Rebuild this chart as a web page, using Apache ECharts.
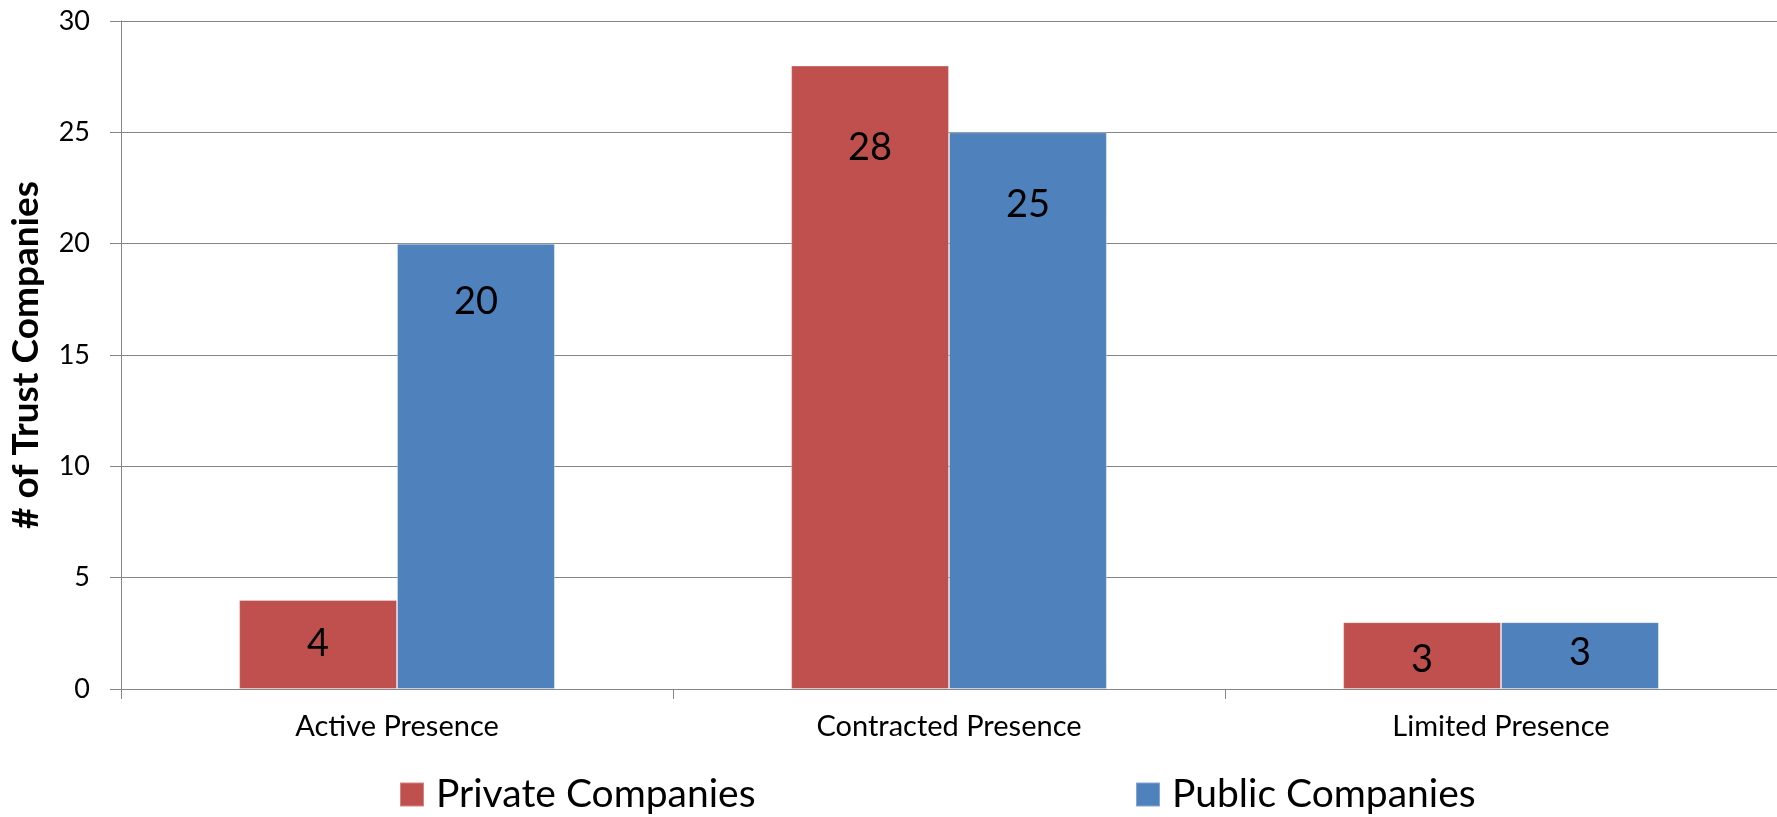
<!DOCTYPE html>
<html>
<head>
<meta charset="utf-8">
<script src="https://cdn.jsdelivr.net/npm/echarts@6/dist/echarts.min.js"></script>
<style>
  html, body { margin: 0; padding: 0; background: #fff; }
  #chart { width: 1777px; height: 817px; }
</style>
</head>
<body>
<div id="chart"></div>
<script>
const categories = ['Active Presence', 'Contracted Presence', 'Limited Presence'];
const privateCompanies = [4, 28, 3];
const publicCompanies = [20, 25, 3];
const yTicks = { min: 0, max: 30, interval: 5 };

// how far below each bar top the value label sits (px), as in the original
const privateLabelDrop = [44, 82, 38];
const publicLabelDrop = [58, 72, 31];

const FONT = 'Lato, "Open Sans", sans-serif';
const GRID_COLOR = '#868686';

function withLabels(values, drops) {
  return values.map((v, i) => ({
    value: v,
    label: { position: ['50%', drops[i]] }
  }));
}

const chart = echarts.init(document.getElementById('chart'), null, { renderer: 'canvas' });

const legendText = { fontFamily: FONT, fontSize: 39, color: '#000', padding: [0, 0, 0, 7] };

const option = {
  backgroundColor: '#fff',
  animation: false,
  grid: { left: 119, right: 0, top: 21, bottom: 128, containLabel: false },
  legend: [
    {
      data: ['Private Companies'],
      left: 399,
      top: 775,
      padding: 0,
      icon: 'rect',
      itemWidth: 24,
      itemHeight: 24,
      textStyle: legendText
    },
    {
      data: ['Public Companies'],
      left: 1135,
      top: 775,
      padding: 0,
      icon: 'rect',
      itemWidth: 24,
      itemHeight: 24,
      textStyle: legendText
    }
  ],
  xAxis: {
    type: 'category',
    data: categories,
    axisLine: { lineStyle: { color: GRID_COLOR, width: 1 } },
    axisTick: { show: true, length: 10, lineStyle: { color: GRID_COLOR } },
    axisLabel: { fontFamily: FONT, fontSize: 29, color: '#000', margin: 23 }
  },
  yAxis: {
    type: 'value',
    min: yTicks.min,
    max: yTicks.max,
    interval: yTicks.interval,
    name: '# of Trust Companies',
    nameLocation: 'middle',
    nameRotate: 90,
    nameGap: 76,
    nameTextStyle: { fontFamily: FONT, fontSize: 37, fontWeight: 'bold', color: '#000' },
    axisLine: { show: true, lineStyle: { color: GRID_COLOR, width: 1 } },
    axisTick: { show: true, length: 11, lineStyle: { color: GRID_COLOR } },
    axisLabel: { fontFamily: FONT, fontSize: 27, color: '#000', margin: 31 },
    splitLine: { show: true, lineStyle: { color: GRID_COLOR, width: 1 } }
  },
  series: [
    {
      name: 'Private Companies',
      type: 'bar',
      data: withLabels(privateCompanies, privateLabelDrop),
      barGap: '0%',
      barCategoryGap: '42.8%',
      itemStyle: { color: '#C0504D', borderColor: 'rgba(255,255,255,0.3)', borderWidth: 1 },
      label: {
        show: true,
        align: 'center',
        verticalAlign: 'middle',
        fontFamily: FONT,
        fontSize: 38,
        color: '#000'
      }
    },
    {
      name: 'Public Companies',
      type: 'bar',
      data: withLabels(publicCompanies, publicLabelDrop),
      barGap: '0%',
      barCategoryGap: '42.8%',
      itemStyle: { color: '#4F81BD', borderColor: 'rgba(255,255,255,0.3)', borderWidth: 1 },
      label: {
        show: true,
        align: 'center',
        verticalAlign: 'middle',
        fontFamily: FONT,
        fontSize: 38,
        color: '#000'
      }
    }
  ]
};

chart.setOption(option);
</script>
</body>
</html>
